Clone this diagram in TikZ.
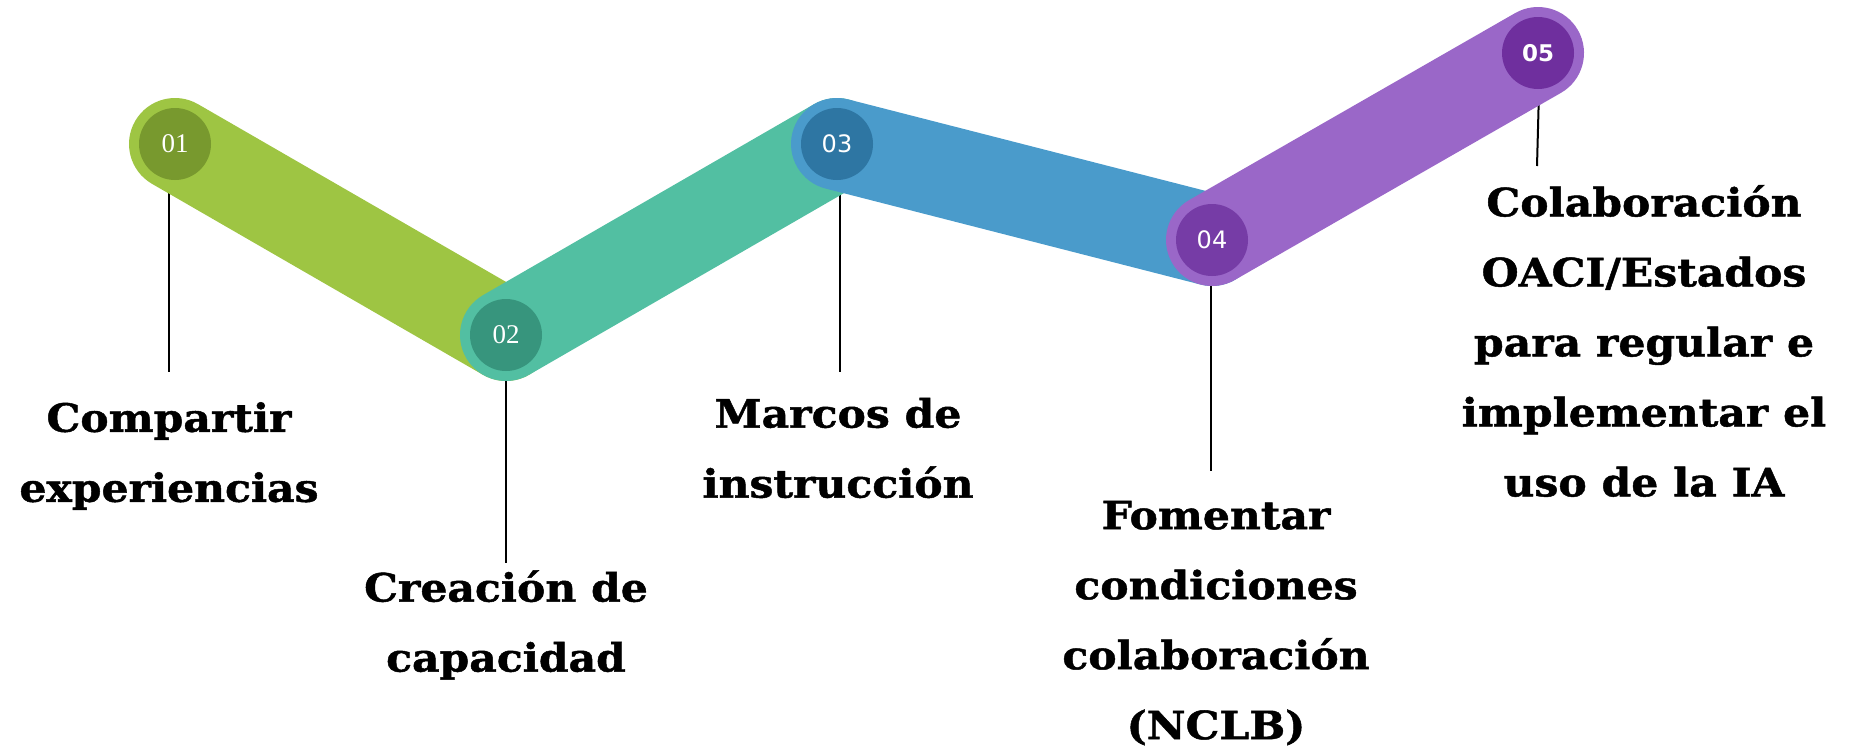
\documentclass[tikz,border=0pt]{standalone}
\usepackage{fontspec}
\setmainfont[FakeStretch=1.09,BoldFeatures={FakeBold=1.2}]{DejaVu Serif}
\newfontfamily\numserif{Liberation Serif}
\newfontfamily\numsans{DejaVu Sans}
\definecolor{gA}{HTML}{9EC543}
\definecolor{gAd}{HTML}{78992E}
\definecolor{tB}{HTML}{52BFA2}
\definecolor{tBd}{HTML}{37957D}
\definecolor{bC}{HTML}{4A9BCB}
\definecolor{bCd}{HTML}{2E76A3}
\definecolor{pD}{HTML}{9A67C8}
\definecolor{pDd}{HTML}{763CA6}
\definecolor{pEd}{HTML}{6F2F9E}
\begin{document}
\begin{tikzpicture}[x=1pt,y=-1pt,
  band/.style={line width=92pt,line cap=round},
  dot/.style={circle,minimum size=72pt,inner sep=0pt,text=white},
  stem/.style={line width=2pt,black},
  lab/.style={align=center,inner sep=0pt,font=\fontsize{39}{70}\selectfont\bfseries}]
\useasboundingbox (0,0) rectangle (1851,750);
% centres
\coordinate (p1) at (175,144);
\coordinate (p2) at (506,335);
\coordinate (p3) at (837,144);
\coordinate (p4) at (1212,240);
\coordinate (p5) at (1538,53);
% stem ends
\coordinate (s1a) at (169,180);
\coordinate (s1b) at (169,372);
\coordinate (s2a) at (506,370);
\coordinate (s2b) at (506,563);
\coordinate (s3a) at (840,180);
\coordinate (s3b) at (840,372);
\coordinate (s4a) at (1211,275);
\coordinate (s4b) at (1211,471);
\coordinate (s5a) at (1539,90);
\coordinate (s5b) at (1537,166);
% stems
\draw[stem] (s1a) -- (s1b);
\draw[stem] (s2a) -- (s2b);
\draw[stem] (s3a) -- (s3b);
\draw[stem] (s4a) -- (s4b);
\draw[stem] (s5a) -- (s5b);
% bands
\draw[band,gA] (p1) -- (p2);
\draw[band,tB] (p2) -- (p3);
\draw[band,bC] (p3) -- (p4);
\draw[band,pD] (p4) -- (p5);
% number dots
\node[dot,fill=gAd,font=\fontsize{27}{27}\selectfont\numserif] (c1) at (p1) {01};
\node[dot,fill=tBd,font=\fontsize{27}{27}\selectfont\numserif] (c2) at (p2) {02};
\node[dot,fill=bCd,font=\fontsize{24}{24}\selectfont\numsans] (c3) at (p3) {03};
\node[dot,fill=pDd,font=\fontsize{24}{24}\selectfont\numsans] (c4) at (p4) {04};
\node[dot,fill=pEd,font=\fontsize{23}{23}\selectfont\numsans\bfseries] (c5) at (p5) {05};
% labels
\node[lab] (t1) at (169,456) {Compartir\\experiencias};
\node[lab] (t2) at (506,625) {Creación de\\capacidad};
\node[lab] (t3) at (838,448) {Marcos de\\instrucción};
\node[lab] (t4) at (1216,623) {Fomentar\\condiciones\\colaboración\\(NCLB)};
\node[lab] (t5) at (1644,341) {Colaboración\\OACI/Estados\\para regular e\\implementar el\\uso de la IA};
\end{tikzpicture}
\end{document}
